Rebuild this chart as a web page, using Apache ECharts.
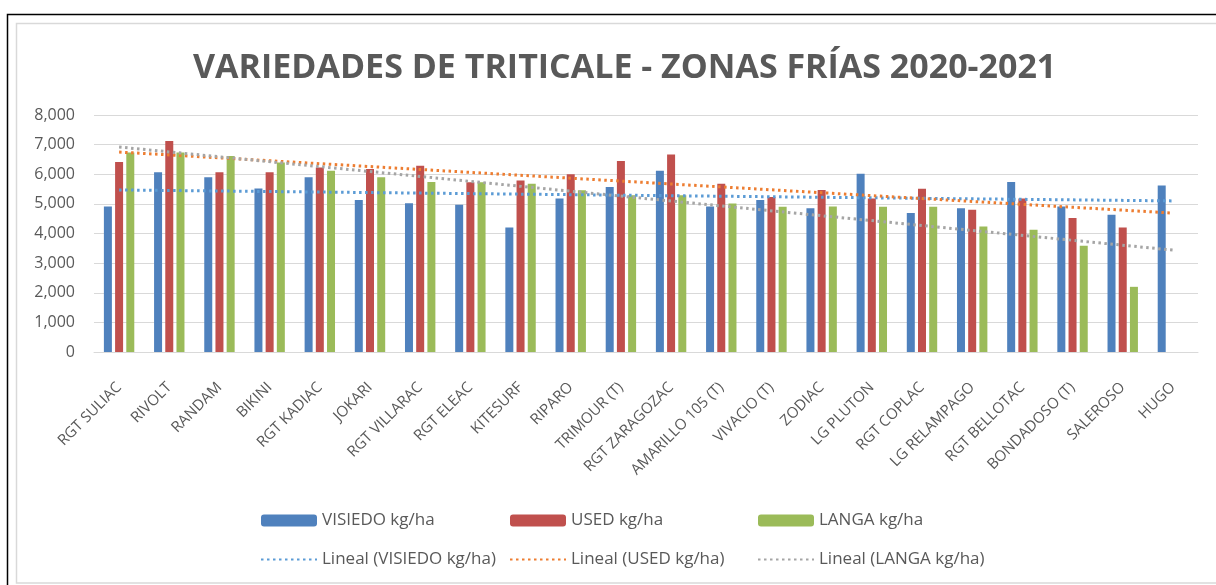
<!DOCTYPE html>
<html>
<head>
<meta charset="utf-8">
<script src="https://cdn.jsdelivr.net/npm/echarts@6/dist/echarts.min.js"></script>
<style>
  html, body { margin: 0; padding: 0; background: #fff; }
  #main { width: 1216px; height: 585px; }
</style>
</head>
<body>
<div id="main"></div>
<script>
var categorias = ['RGT SULIAC', 'RIVOLT', 'RANDAM', 'BIKINI', 'RGT KADIAC', 'JOKARI', 'RGT VILLARAC',
    'RGT ELEAC', 'KITESURF', 'RIPARO', 'TRIMOUR (T)', 'RGT ZARAGOZAC', 'AMARILLO 105 (T)', 'VIVACIO (T)',
    'ZODIAC', 'LG PLUTON', 'RGT COPLAC', 'LG RELAMPAGO', 'RGT BELLOTAC', 'BONDADOSO (T)', 'SALEROSO', 'HUGO'];
var visiedo = [4910, 6070, 5900, 5520, 5900, 5130, 5020, 4970, 4200, 5180, 5570, 6120, 4910, 5130,
    4850, 6020, 4690, 4850, 5740, 4910, 4630, 5620];
var used = [6410, 7120, 6070, 6070, 6230, 6180, 6290, 5730, 5790, 6000, 6450, 6670, 5680, 5230,
    5470, 5180, 5510, 4800, 5180, 4520, 4200, null];
var langa = [6730, 6730, 6620, 6400, 6120, 5900, 5740, 5730, 5680, 5460, 5290, 5290, 5010, 4900,
    4910, 4900, 4900, 4240, 4130, 3590, 2200, null];
// lineas de tendencia: valor al inicio y al final
var tendVisiedo = [5470, 5100];
var tendUsed = [6750, 4690];
var tendLanga = [6920, 3440];
var ticksY = [0, 1000, 2000, 3000, 4000, 5000, 6000, 7000, 8000];

var chart = echarts.init(document.getElementById('main'));
var fuente = "'Open Sans', sans-serif";
var gris = '#595959';
var ultimo = categorias.length - 1;

function tendencia(nombre, vals, color) {
    return {
        name: nombre,
        type: 'line',
        symbol: 'none',
        z: 5,
        data: [[0, vals[0]], [ultimo, vals[1]]],
        lineStyle: { color: color, width: 3, type: [2.5, 3.5] },
        itemStyle: { color: color }
    };
}

function barra(nombre, vals, color) {
    return {
        name: nombre,
        type: 'bar',
        barWidth: 8,
        barGap: '40%',
        data: vals,
        itemStyle: { color: color }
    };
}

function leyenda(x, barName, lineName) {
    return {
        left: x, top: 507, orient: 'vertical',
        itemWidth: 56, itemHeight: 12, itemGap: 22,
        textStyle: { fontSize: 17, color: gris, fontFamily: fuente },
        data: [barName, { name: lineName, itemStyle: { opacity: 0 } }]
    };
}

var option = {
    animation: false,
    textStyle: { fontFamily: fuente },
    title: {
        text: 'VARIEDADES DE TRITICALE - ZONAS FRÍAS 2020-2021',
        left: 188,
        top: 46,
        textStyle: { fontFamily: fuente, fontSize: 34, fontWeight: 'bold', color: gris }
    },
    legend: [
        leyenda(255, 'VISIEDO kg/ha', 'Lineal (VISIEDO kg/ha)'),
        leyenda(504, 'USED kg/ha', 'Lineal (USED kg/ha)'),
        leyenda(752, 'LANGA kg/ha', 'Lineal (LANGA kg/ha)')
    ],
    grid: { left: 94, right: 18, top: 115, bottom: 233 },
    xAxis: {
        type: 'category',
        data: categorias,
        axisTick: { show: false },
        axisLine: { lineStyle: { color: '#d9d9d9' } },
        axisLabel: { interval: 0, rotate: 45, color: gris, fontSize: 15, margin: 33, fontFamily: fuente }
    },
    yAxis: {
        type: 'value',
        min: ticksY[0],
        max: ticksY[ticksY.length - 1],
        interval: 1000,
        splitLine: { lineStyle: { color: '#d9d9d9' } },
        axisLabel: {
            color: gris, fontSize: 16, margin: 19, fontFamily: fuente,
            formatter: function (v) { return v.toLocaleString('en-US'); }
        }
    },
    graphic: [
        { type: 'rect', shape: { x: 7.5, y: 14.5, width: 1300, height: 700 },
          style: { fill: null, stroke: '#000', lineWidth: 1.5 }, silent: true },
        { type: 'rect', shape: { x: 16.5, y: 23.5, width: 1300, height: 559.5 },
          style: { fill: null, stroke: '#d9d9d9', lineWidth: 1.5 }, silent: true }
    ],
    series: [
        barra('VISIEDO kg/ha', visiedo, '#4F81BD'),
        barra('USED kg/ha', used, '#C0504D'),
        barra('LANGA kg/ha', langa, '#9BBB59'),
        tendencia('Lineal (VISIEDO kg/ha)', tendVisiedo, '#5B9BD5'),
        tendencia('Lineal (USED kg/ha)', tendUsed, '#ED7D31'),
        tendencia('Lineal (LANGA kg/ha)', tendLanga, '#A5A5A5')
    ]
};
chart.setOption(option);
</script>
</body>
</html>
